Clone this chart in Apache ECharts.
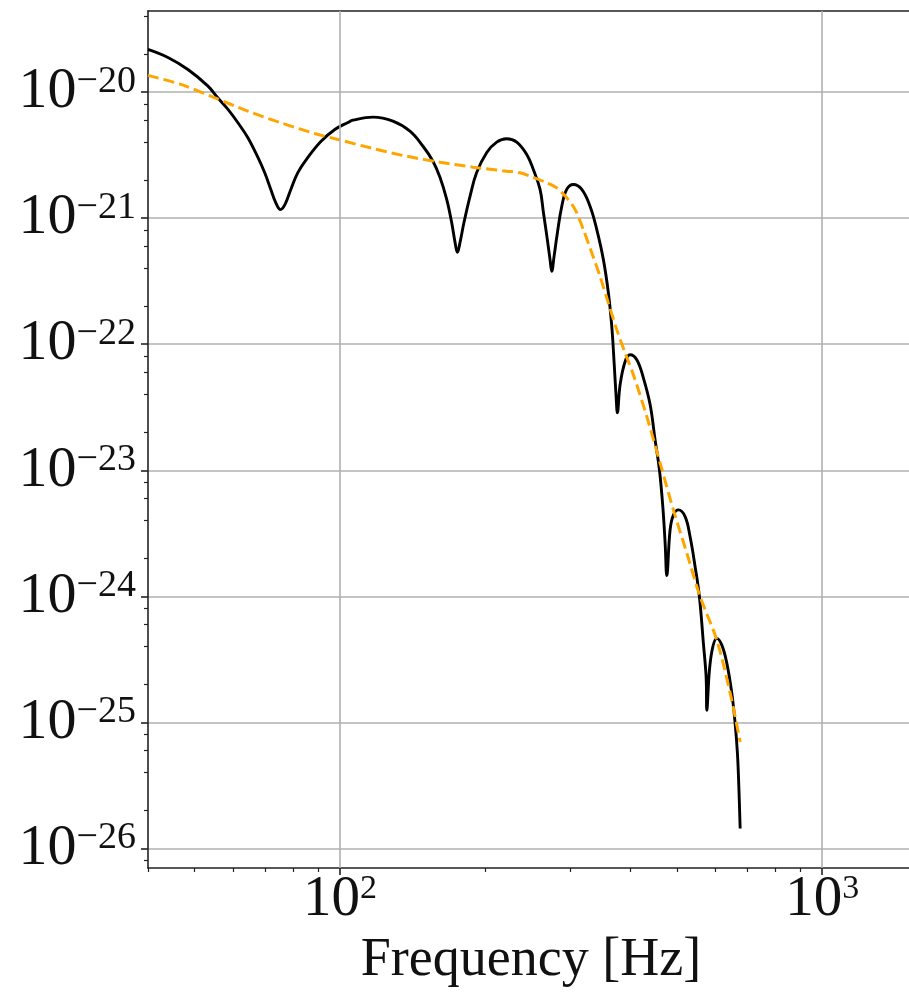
<!DOCTYPE html>
<html>
<head>
<meta charset="utf-8">
<script src="https://cdn.jsdelivr.net/npm/echarts@6/dist/echarts.min.js"></script>
<style>
  html, body { margin: 0; padding: 0; background: #ffffff; }
  #chart { width: 909px; height: 997px; }
</style>
</head>
<body>
<div id="chart"></div>
<script>
// Signal amplitude spectrum (solid black)
const signalFreq = [
  40.0, 44.0, 48.4, 53.2, 55.8, 58.6, 61.4, 64.4, 67.6, 69.8,
  71.9, 73.6, 75.3, 76.9, 79.1, 81.8, 85.8, 91.3, 97.6, 103.9,
  106.4, 117.1, 128.8, 139.7, 148.7, 155.9, 161.3, 166.5, 170.5, 173.3,
  175.2, 177.4, 180.8, 186.1, 192.1, 201.6, 211.4, 221.7, 232.6, 244.0,
  251.8, 260.0, 264.2, 269.2, 272.7, 274.9, 278.0, 282.4, 288.4, 295.3,
  304.8, 317.3, 330.2, 340.9, 351.8, 360.3, 366.2, 370.3, 373.8, 376.1,
  381.0, 390.3, 399.6, 412.6, 425.9, 439.8, 450.3, 459.7, 467.2, 472.4,
  476.2, 483.7, 491.4, 503.3, 519.7, 532.2, 545.1, 556.4, 567.1, 574.5,
  576.5, 583.7, 593.2, 604.6, 619.3, 634.3, 649.6, 659.9, 667.2, 671.7,
  675.9
];
const signalAmp = [
  2.18e-20, 1.88e-20, 1.51e-20, 1.12e-20, 9.03e-21, 7.29e-21, 5.74e-21, 4.36e-21, 3.03e-21, 2.30e-21,
  1.69e-21, 1.33e-21, 1.17e-21, 1.28e-21, 1.69e-21, 2.30e-21, 3.03e-21, 4.06e-21, 5.05e-21, 5.74e-21,
  5.99e-21, 6.33e-21, 5.89e-21, 4.90e-21, 3.72e-21, 2.83e-21, 2.10e-21, 1.41e-21, 9.23e-22, 6.40e-22,
  5.36e-22, 6.40e-22, 9.23e-22, 1.49e-21, 2.30e-21, 3.32e-21, 4.01e-21, 4.27e-21, 4.01e-21, 3.20e-21,
  2.43e-21, 1.69e-21, 1.11e-21, 6.76e-22, 4.69e-22, 3.79e-22, 4.98e-22, 7.64e-22, 1.24e-21, 1.69e-21,
  1.85e-21, 1.69e-21, 1.24e-21, 8.12e-22, 4.69e-22, 2.55e-22, 1.38e-22, 7.13e-23, 3.85e-23, 2.86e-23,
  4.77e-23, 7.30e-23, 8.25e-23, 7.53e-23, 5.39e-23, 3.31e-23, 1.74e-23, 1.01e-23, 5.15e-24, 2.64e-24,
  1.46e-24, 3.36e-24, 4.42e-24, 4.85e-24, 4.29e-24, 2.97e-24, 1.72e-24, 9.93e-25, 4.23e-25, 2.30e-25,
  1.25e-25, 2.60e-25, 3.98e-25, 4.64e-25, 4.10e-25, 2.94e-25, 1.70e-25, 9.80e-26, 5.66e-26, 3.07e-26,
  1.44e-26
];

// Smooth envelope (dashed orange)
const envelopeFreq = [
  40.0, 46.8, 54.95, 64.4, 75.4, 88.6, 100, 117.1, 137.5, 161.3,
  188.7, 221.7, 236.3, 251.8, 268.4, 281.6, 295.3, 307.4, 319.7, 332.9,
  346.2, 360.3, 375.1, 390.3, 406.0, 432.8, 461.2, 491.4, 524.0, 558.4,
  604.6, 644.6, 675.9
];
const envelopeAmp = [
  1.357e-20, 1.151e-20, 9.03e-21, 7.06e-21, 5.71e-21, 4.70e-21, 4.17e-21, 3.57e-21, 3.10e-21, 2.78e-21,
  2.54e-21, 2.36e-21, 2.29e-21, 2.10e-21, 1.91e-21, 1.74e-21, 1.45e-21, 1.17e-21, 8.12e-22, 5.30e-22,
  3.46e-22, 2.12e-22, 1.30e-22, 8.51e-23, 5.72e-23, 2.67e-23, 1.14e-23, 4.85e-24, 2.20e-24, 9.93e-25,
  4.50e-25, 1.70e-25, 7.00e-26
];

// Axis ticks
const xMajorTicks = [100, 1000];
const xMinorTicks = [40, 50, 60, 70, 80, 90, 200, 300, 400, 500, 600, 700, 800, 900];
const yMajorTicks = [1e-26, 1e-25, 1e-24, 1e-23, 1e-22, 1e-21, 1e-20];
const yMinorTicks = [
  8e-27,
  2e-26, 4e-26, 6e-26, 8e-26,
  2e-25, 4e-25, 6e-25, 8e-25,
  2e-24, 4e-24, 6e-24, 8e-24,
  2e-23, 4e-23, 6e-23, 8e-23,
  2e-22, 4e-22, 6e-22, 8e-22,
  2e-21, 4e-21, 6e-21, 8e-21,
  2e-20, 4e-20
];
const xRange = [40, 1550];
const yRange = [7e-27, 4.4e-20];
const xAxisTitle = 'Frequency [Hz]';

const FONT = "'Liberation Serif', 'Times New Roman', serif";
const AXIS_COLOR = '#222222';
const GRID_COLOR = '#b0b0b0';

function zip(xs, ys) {
  return xs.map((x, i) => [x, ys[i]]);
}

function powerLabel(value) {
  const e = Math.round(Math.log10(value));
  const exp = e < 0 ? '\u2212' + Math.abs(e) : String(e);
  return '{b|10}{s|' + exp + '}';
}

const yLabelRich = {
  b: { fontFamily: FONT, fontSize: 58, lineHeight: 58, color: '#111' },
  s: { fontFamily: FONT, fontSize: 38, lineHeight: 38, color: '#111', verticalAlign: 'top' }
};
const xLabelRich = {
  b: { fontFamily: FONT, fontSize: 57, lineHeight: 57, color: '#111' },
  s: { fontFamily: FONT, fontSize: 34, lineHeight: 34, color: '#111', verticalAlign: 'top' }
};

// shared settings for the extra log axes that only carry ticks or a frame line
function plainXAxis(extra) {
  return Object.assign({
    type: 'log',
    logBase: 10,
    min: xRange[0],
    max: xRange[1],
    axisLine: { show: false },
    axisTick: { show: false },
    axisLabel: { show: false },
    splitLine: { show: false }
  }, extra);
}

const chart = echarts.init(document.getElementById('chart'), null, { renderer: 'canvas' });

chart.setOption({
  animation: false,
  backgroundColor: '#ffffff',
  grid: {
    left: 148,
    top: 11,
    width: 766,
    height: 857,
    containLabel: false,
    outerBoundsMode: 'none',
    show: false
  },
  xAxis: [
    {
      type: 'log',
      logBase: 10,
      min: xRange[0],
      max: xRange[1],
      position: 'bottom',
      name: xAxisTitle,
      nameLocation: 'middle',
      nameGap: 63,
      nameTextStyle: { fontFamily: FONT, fontSize: 54, color: '#111' },
      axisLine: { show: true, lineStyle: { color: AXIS_COLOR, width: 1.6 } },
      axisTick: { show: true, inside: false, length: 7, customValues: xMajorTicks,
                  lineStyle: { color: AXIS_COLOR, width: 1.6 } },
      axisLabel: { show: true, margin: 4, customValues: xMajorTicks,
                   formatter: powerLabel, rich: xLabelRich },
      splitLine: { show: false },
      minorTick: { show: false },
      minorSplitLine: { show: false }
    },
    plainXAxis({
      position: 'bottom',
      axisTick: { show: true, inside: false, length: 4, customValues: xMinorTicks,
                  lineStyle: { color: AXIS_COLOR, width: 1.2 } }
    }),
    plainXAxis({
      position: 'top',
      axisLine: { show: true, lineStyle: { color: AXIS_COLOR, width: 1.6 } }
    })
  ],
  yAxis: [
    {
      type: 'log',
      logBase: 10,
      min: yRange[0],
      max: yRange[1],
      position: 'left',
      axisLine: { show: true, lineStyle: { color: AXIS_COLOR, width: 1.6 } },
      axisTick: { show: true, inside: false, length: 7, customValues: yMajorTicks,
                  lineStyle: { color: AXIS_COLOR, width: 1.6 } },
      axisLabel: { show: true, margin: 12, customValues: yMajorTicks,
                   formatter: powerLabel, rich: yLabelRich },
      splitLine: { show: true, lineStyle: { color: GRID_COLOR, width: 1.6 } },
      minorTick: { show: false },
      minorSplitLine: { show: false }
    },
    {
      type: 'log',
      logBase: 10,
      min: yRange[0],
      max: yRange[1],
      position: 'left',
      offset: 0,
      axisLine: { show: false },
      axisTick: { show: true, inside: false, length: 4, customValues: yMinorTicks,
                  lineStyle: { color: AXIS_COLOR, width: 1.2 } },
      axisLabel: { show: false },
      splitLine: { show: false }
    }
  ],
  series: [
    {
      // vertical grid lines at the labelled decades
      name: 'decades',
      type: 'line',
      xAxisIndex: 0,
      yAxisIndex: 0,
      data: [],
      silent: true,
      z: 1,
      markLine: {
        silent: true,
        symbol: ['none', 'none'],
        label: { show: false },
        lineStyle: { color: GRID_COLOR, width: 1.6, type: 'solid' },
        data: xMajorTicks.map(v => ({ xAxis: v }))
      }
    },
    {
      name: 'signal',
      type: 'line',
      xAxisIndex: 0,
      yAxisIndex: 0,
      data: zip(signalFreq, signalAmp),
      showSymbol: false,
      symbol: 'none',
      smooth: 0.4,
      lineStyle: { color: '#000000', width: 2.9, join: 'round' },
      z: 3
    },
    {
      name: 'envelope',
      type: 'line',
      xAxisIndex: 0,
      yAxisIndex: 0,
      data: zip(envelopeFreq, envelopeAmp),
      showSymbol: false,
      symbol: 'none',
      smooth: 0.3,
      lineStyle: { color: '#FFA500', width: 3, type: [11, 5] },
      z: 4
    }
  ]
});
</script>
</body>
</html>
